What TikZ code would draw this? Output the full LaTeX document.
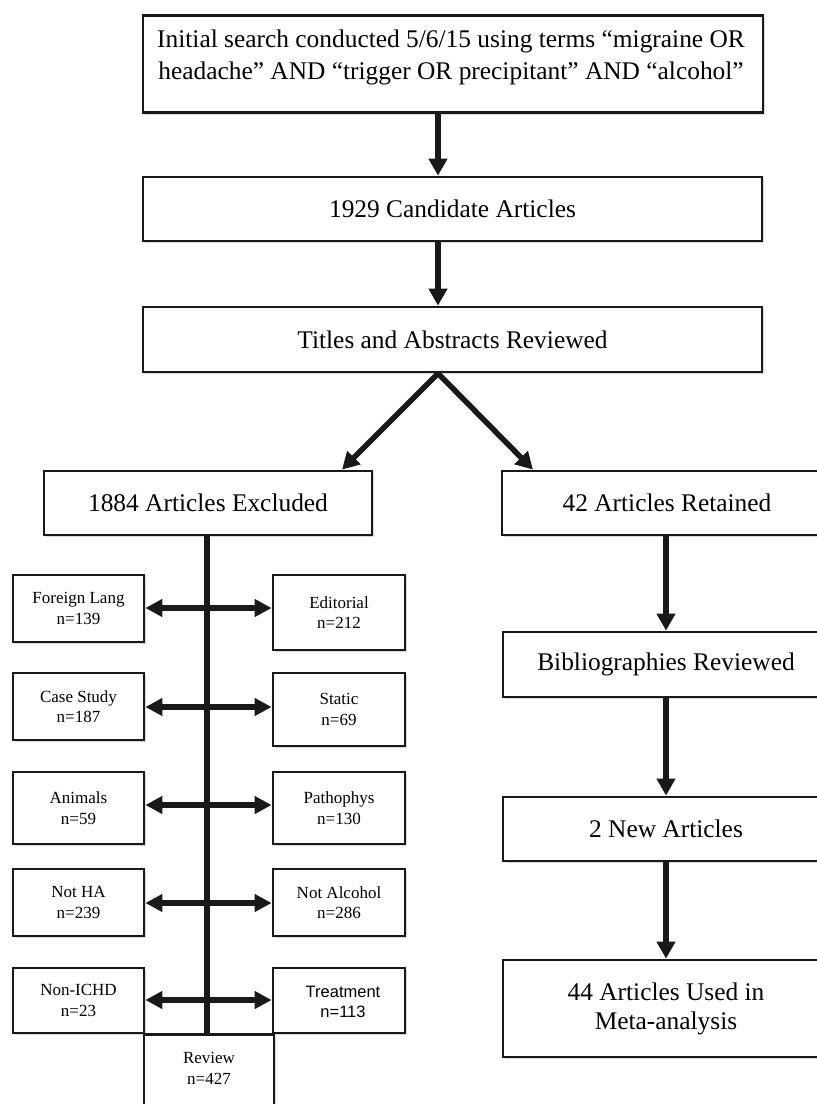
\documentclass[tikz,border=0pt]{standalone}
\usepackage{fontspec}
\setmainfont{Liberation Serif}
\newfontfamily\sansf{Liberation Sans}
\usetikzlibrary{arrows.meta,shadows}
\begin{document}
\begin{tikzpicture}[x=1pt,y=-1pt,
  box/.style={draw=black!90, line width=2.8pt, fill=white,
    drop shadow={shadow xshift=2pt, shadow yshift=-2.2pt, opacity=0.3},
    inner sep=0pt, align=center, font=\fontsize{25.4}{29}\selectfont},
  sbox/.style={box, font=\fontsize{17}{20.5}\selectfont},
  btext/.style={inner sep=0pt, align=center, font=\fontsize{25.4}{32}\selectfont},
  stext/.style={inner sep=0pt, align=center, font=\fontsize{17}{20.5}\selectfont},
  arr/.style={line width=5.5pt, draw=black!90, -{Triangle[width=18pt,length=17pt]}},
  darr/.style={line width=5.5pt, draw=black!90, {Triangle[width=17pt,length=17pt]}-{Triangle[width=17pt,length=17pt]}},
  spine/.style={line width=6.5pt, draw=black!90},
]
\useasboundingbox (0,0) rectangle (817,1104);
\clip (0,0) rectangle (817,1104);
\fill[white] (0,0) rectangle (817,1104);

\coordinate (axis) at (438,0);
\coordinate (raxis) at (666,0);
\coordinate (sp) at (207,0);

% main column
\node[box, minimum width=620, minimum height=97, anchor=north] (top) at (453,14) {};
\node[btext] (toptext) at (451,57) {Initial search conducted 5/6/15 using terms “migraine OR\\headache” AND “trigger OR precipitant” AND “alcohol”};
\node[box, minimum width=619, minimum height=64] (cand) at (452.5,209) {1929 Candidate Articles};
\node[box, minimum width=619, minimum height=65] (titles) at (452.5,339.5) {Titles and Abstracts Reviewed};
\node[box, minimum width=328, minimum height=64] (excl) at (208,503) {1884 Articles Excluded};
\node[box, minimum width=330, minimum height=64] (ret) at (667,503) {42 Articles Retained};
\node[box, minimum width=326, minimum height=65] (bib) at (666,664.5) {Bibliographies Reviewed};
\node[box, minimum width=326, minimum height=64] (new) at (666,829) {2 New Articles};
\node[box, minimum width=326, minimum height=97] (used) at (666,1008.5) {44 Articles Used in\\Meta-analysis};

\draw[arr] (top.south -| axis) -- (cand.north -| axis);
\draw[arr] (cand.south -| axis) -- (titles.north -| axis);
\coordinate (tl) at (342,0);
\coordinate (tr) at (533,0);
\draw[arr] (titles.south -| axis) -- (excl.north -| tl);
\draw[arr] (titles.south -| axis) -- (ret.north -| tr);
\draw[arr] (ret.south -| raxis) -- (bib.north -| raxis);
\draw[arr] (bib.south -| raxis) -- (new.north -| raxis);
\draw[arr] (new.south -| raxis) -- (used.north -| raxis);

% exclusion boxes
\node[sbox, minimum width=131, minimum height=67] (fl) at (78.5,608.5) {Foreign Lang\\n=139};
\node[sbox, minimum width=132, minimum height=75] (ed) at (339,612.5) {Editorial\\n=212};
\node[sbox, minimum width=131, minimum height=67] (cs) at (78.5,706.5) {Case Study\\n=187};
\node[sbox, minimum width=132, minimum height=73] (st) at (339,709.5) {Static\\n=69};
\node[sbox, minimum width=131, minimum height=72] (an) at (78.5,808) {Animals\\n=59};
\node[sbox, minimum width=132, minimum height=72] (pa) at (339,808) {Pathophys\\n=130};
\node[sbox, minimum width=131, minimum height=67] (nh) at (78.5,902.5) {Not HA\\n=239};
\node[sbox, minimum width=132, minimum height=67] (na) at (339,902.5) {Not Alcohol\\n=286};
\node[sbox, minimum width=131, minimum height=65] (ni) at (78.5,1000.5) {Non-ICHD\\n=23};
\node[sbox, minimum width=132, minimum height=65] (tr) at (339,1000.5) {};
\node[stext, font=\sansf\fontsize{16.5}{20.5}\selectfont] (trtext) at (343,1002) {Treatment\\n=113};
\node[sbox, minimum width=130, minimum height=95, anchor=north] (rev) at (209,1033) {};
\node[stext] (revtext) at (209,1068.5) {Review\\n=427};

\draw[spine] (excl.south -| sp) -- (rev.north -| sp);

\draw[darr] (fl.east |- 0,608) -- (ed.west |- 0,608);
\draw[darr] (cs.east |- 0,707) -- (st.west |- 0,707);
\draw[darr] (an.east |- 0,805) -- (pa.west |- 0,805);
\draw[darr] (nh.east |- 0,903) -- (na.west |- 0,903);
\draw[darr] (ni.east |- 0,1000) -- (tr.west |- 0,1000);
\end{tikzpicture}
\end{document}
